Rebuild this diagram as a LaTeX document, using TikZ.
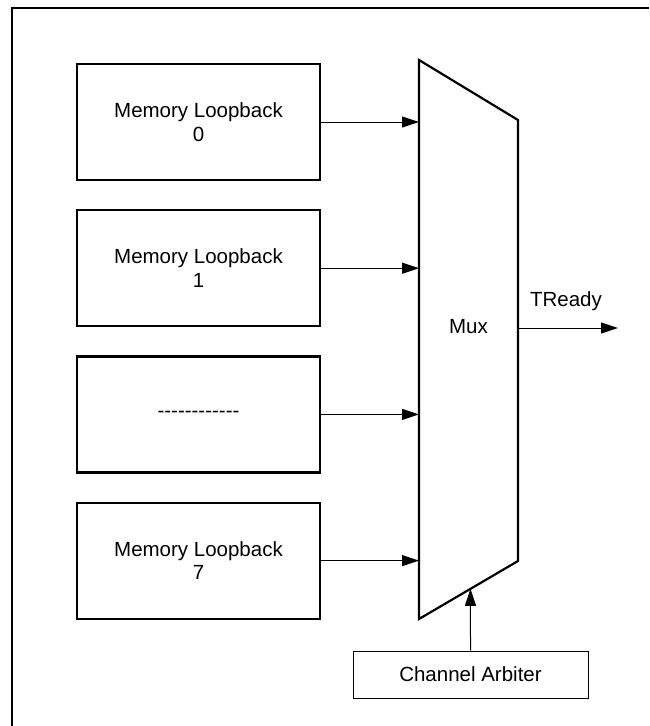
\documentclass[tikz,border=0pt]{standalone}
\usepackage{fontspec}
\setmainfont{Liberation Sans}
\usetikzlibrary{calc,positioning,arrows.meta}

\newcommand{\dashrow}{\foreach \i in {1,...,12}{-\kern0pt}}

\tikzset{
	loopbox/.style={draw,line width=2.2pt,minimum width=243pt,minimum height=116pt,align=center,inner sep=0pt},
	arbbox/.style={draw,line width=1pt,minimum width=235pt,minimum height=47pt,inner sep=0pt},
	sig/.style={-{Triangle[length=17pt,width=11pt]},line width=1pt},
}

\begin{document}
\begin{tikzpicture}[x=1pt,y=-1pt,font=\fontsize{20.5}{23.5}\selectfont]
			          %\draw[help lines] (0,0) grid (649,726);
			          \useasboundingbox (0,0) rectangle (649,726);
			          %FRAME
			          \draw[line width=2.5pt] (12,726)--(12,8)--(649,8);
				  %LOOPBACK BLOCKS
				  \node[loopbox](mem0) at (198.5,122){Memory Loopback\\0};
				  \node[loopbox,below=28pt of mem0](mem1){Memory Loopback\\1};
				  \node[loopbox,below=28pt of mem1](memdots){\dashrow};
				  \node[loopbox,below=28pt of memdots](mem7){Memory Loopback\\7};
				  %MUX
				  \coordinate (mux tl) at (419,60);
				  \coordinate (mux tr) at (518,120);
				  \coordinate (mux br) at (518,561);
				  \coordinate (mux bl) at (419,619);
				  \draw[line width=2.2pt] (mux tl)--(mux tr)--(mux br)--(mux bl)--cycle;
				  \node (mux) at (468.5,327){Mux};
				  \foreach \m in {mem0,mem1,memdots,mem7}
				  	\draw[sig] (\m.east) -- (\m.east -| mux tl);
				  %OUTPUT
				  \coordinate (tready) at (618,328);
				  \draw[sig] (tready -| mux tr) -- (tready);
				  \node (treadylbl) at (566,301.5){TReady};
				  %ARBITER
				  \node[arbbox](arb) at (470.5,674.5){Channel Arbiter};
				  \draw[sig] (arb.north) -- ($(mux bl)!0.52!(mux br)$);
\end{tikzpicture}
\end{document}
